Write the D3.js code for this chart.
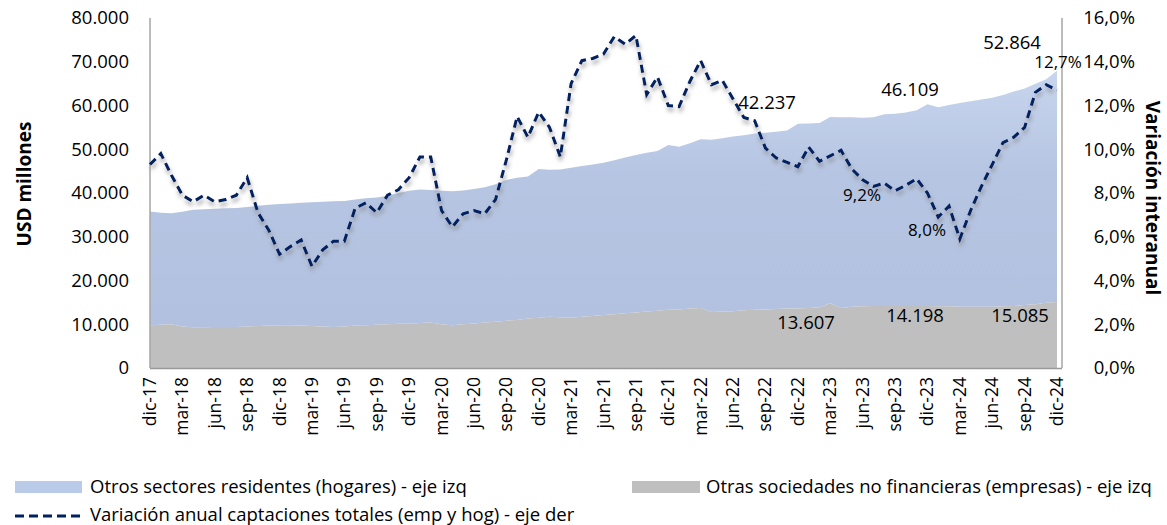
<!DOCTYPE html>
<html>
<head>
<meta charset="utf-8">
<script src="https://cdn.jsdelivr.net/npm/d3@7"></script>
<style>
  body { margin: 0; background: #fff; }
  text { font-family: "Open Sans", Lato, sans-serif; fill: #000; }
</style>
</head>
<body>
<svg id="chart" width="1167" height="525" viewBox="0 0 1167 525"></svg>
<script>
// meses dic-17 ... dic-24
const meses = ["ene","feb","mar","abr","may","jun","jul","ago","sep","oct","nov","dic"]
const categorias = []
for (let a = 17; a <= 24; a++) {
    meses.forEach((m, k) => {
        if (a === 17 && k < 11) return
        categorias.push(m + "-" + a)
    })
}

// Otras sociedades no financieras (empresas), USD millones
const empresas = [
    9800, 9900, 10000, 9500, 9300, 9300, 9400, 9400, 9400, 9500, 9600, 9700,
    9800, 9800, 9700, 9600, 9500, 9400, 9500, 9700, 9800, 9900, 10000, 10100,
    10100, 10300, 10400, 10000, 9800, 10000, 10200, 10400, 10600, 10800, 11000, 11300,
    11500, 11700, 11600, 11500, 11700, 11900, 12100, 12300, 12500, 12700, 12900, 13100,
    13300, 13400, 13600, 13700, 12800, 12900, 13000, 13200, 13300, 13400, 13500, 13600,
    13607, 13700, 13900, 14800, 13700, 14000, 14100, 14200, 14200, 14200, 14200, 14200,
    14198, 14100, 14100, 14000, 14000, 14000, 14000, 14100, 14200, 14400, 14600, 14900,
    15085
]

// Otros sectores residentes (hogares), USD millones
const hogares = [
    26000, 25600, 25400, 26200, 26900, 27000, 27000, 27100, 27200, 27300, 27500, 27600,
    27700, 27800, 28100, 28300, 28500, 28700, 28700, 28800, 29000, 29100, 29400, 29900,
    30400, 30500, 30300, 30500, 30600, 30600, 30700, 30900, 31400, 32200, 32500, 32500,
    34000, 33600, 33800, 34300, 34500, 34600, 34800, 35200, 35600, 36000, 36300, 36500,
    37700, 37200, 37800, 38600, 39400, 39600, 39900, 40000, 40300, 40400, 40500, 40700,
    42237, 42200, 42100, 42600, 43600, 43300, 43100, 43100, 43800, 43900, 44200, 44700,
    46109, 45500, 46000, 46600, 47000, 47400, 47800, 48300, 49000, 49500, 50400, 51100,
    52864
]

// Variación anual captaciones totales (%)
const variacion = [
    9.3, 9.8, 8.8, 7.9, 7.6, 7.9, 7.6, 7.7, 7.9, 8.7, 7.1, 6.3,
    5.2, 5.55, 5.85, 4.65, 5.4, 5.8, 5.8, 7.3, 7.55, 7.1, 7.9, 8.15,
    8.7, 9.65, 9.65, 7.2, 6.45, 7.05, 7.2, 7.05, 7.7, 9.5, 11.5, 10.55,
    11.7, 11.0, 9.65, 13.0, 14.05, 14.15, 14.35, 15.15, 14.8, 15.2, 12.5, 13.3,
    12.0, 11.95, 13.1, 14.05, 12.95, 13.15, 12.3, 11.45, 11.3, 10.05, 9.6, 9.4,
    9.2, 10.1, 9.45, 9.7, 9.95, 9.1, 8.6, 8.3, 8.45, 8.1, 8.35, 8.65,
    8.0, 6.9, 7.4, 5.9, 7.2, 8.3, 9.3, 10.3, 10.55, 11.0, 12.6, 12.95,
    12.7
]

const ticksIzq = [0, 10000, 20000, 30000, 40000, 50000, 60000, 70000, 80000]
const ticksDer = [0, 2, 4, 6, 8, 10, 12, 14, 16]

const svg = d3.select("#chart")
const x0 = 150, x1 = 1057, y0 = 18, y1 = 368

const x = d3.scalePoint().domain(categorias).range([x0, x1])
const yL = d3.scaleLinear().domain([0, 80000]).range([y1, y0])
const yR = d3.scaleLinear().domain([0, 16]).range([y1, y0])

const fmtMiles = d3.formatLocale({decimal: ",", thousands: ".", grouping: [3], currency: ["", ""]}).format(",.0f")
const fmtPct = v => d3.format(".1f")(v).replace(".", ",") + "%"

const defs = svg.append("defs")
const grad = defs.append("linearGradient").attr("id", "azul").attr("x1", 0).attr("y1", 0).attr("x2", 0).attr("y2", 1)
grad.append("stop").attr("offset", "0%").attr("stop-color", "#C7D5EE")
grad.append("stop").attr("offset", "40%").attr("stop-color", "#B6C5E2")
grad.append("stop").attr("offset", "100%").attr("stop-color", "#B2C1DF")

const sombra = defs.append("filter").attr("id", "sombra").attr("x", "-10%").attr("y", "-10%").attr("width", "120%").attr("height", "130%")
sombra.append("feDropShadow").attr("dx", 1).attr("dy", 4).attr("stdDeviation", 2.2)
    .attr("flood-color", "#7f7f7f").attr("flood-opacity", 0.7)

const data = categorias.map((c, i) => ({c: c, emp: empresas[i], hog: hogares[i], v: variacion[i]}))

// areas apiladas
const areaTotal = d3.area().x(d => x(d.c)).y0(d => yL(d.emp)).y1(d => yL(d.emp + d.hog))
const areaEmp = d3.area().x(d => x(d.c)).y0(yL(0)).y1(d => yL(d.emp))

svg.append("path").datum(data).attr("d", areaTotal).attr("fill", "url(#azul)")
svg.append("path").datum(data).attr("d", areaEmp).attr("fill", "#BFBFBF")

// ejes
svg.append("line").attr("x1", x0).attr("x2", x0).attr("y1", y0).attr("y2", y1)
    .attr("stroke", "#A6A6A6").attr("stroke-width", 1.5)
svg.append("line").attr("x1", 1062).attr("x2", 1062).attr("y1", y0).attr("y2", y1)
    .attr("stroke", "#A6A6A6").attr("stroke-width", 1.5)
svg.append("line").attr("x1", x0).attr("x2", 1062).attr("y1", y1 + 0.5).attr("y2", y1 + 0.5)
    .attr("stroke", "#999").attr("stroke-width", 1.5)

svg.append("g").selectAll("text").data(ticksIzq).enter().append("text")
    .attr("x", 129).attr("y", d => yL(d)).attr("dy", "0.35em")
    .attr("text-anchor", "end").style("font-size", "18.5px")
    .text(d => fmtMiles(d))

svg.append("g").selectAll("text").data(ticksDer).enter().append("text")
    .attr("x", 1135).attr("y", d => yR(d)).attr("dy", "0.35em")
    .attr("text-anchor", "end").style("font-size", "18.5px")
    .text(d => fmtPct(d))

const etiquetas = categorias.filter((c, i) => i % 3 === 0)
svg.append("g").selectAll("text").data(etiquetas).enter().append("text")
    .attr("transform", d => `translate(${x(d) + 6},377) rotate(-90)`)
    .attr("text-anchor", "end").style("font-size", "17.5px")
    .text(d => d)

svg.append("text").attr("transform", "translate(31,184) rotate(-90)")
    .attr("text-anchor", "middle").style("font-size", "19px").style("font-weight", "bold")
    .text("USD millones")
svg.append("text").attr("transform", "translate(1146,198) rotate(90)")
    .attr("text-anchor", "middle").style("font-size", "19px").style("font-weight", "bold")
    .text("Variación interanual")

// linea variacion
const linea = d3.line().x(d => x(d.c)).y(d => yR(d.v))
svg.append("path").datum(data).attr("d", linea)
    .attr("fill", "none").attr("stroke", "#002060").attr("stroke-width", 3)
    .attr("stroke-dasharray", "8,5").attr("filter", "url(#sombra)")

// etiquetas de datos
const idxLab = [60, 72, 84]
const posHog = [[767, 103], [910, 90], [1012, 43]]
const posEmp = [[806, 323], [915, 316], [1020, 316]]
const posVar = [[862, 195], [927, 230], [1058, 62]]
idxLab.forEach((i, k) => {
    svg.append("text").attr("x", posHog[k][0]).attr("y", posHog[k][1]).attr("dy", "0.35em")
        .attr("text-anchor", "middle").style("font-size", "18.5px").text(fmtMiles(hogares[i]))
    svg.append("text").attr("x", posEmp[k][0]).attr("y", posEmp[k][1]).attr("dy", "0.35em")
        .attr("text-anchor", "middle").style("font-size", "18.5px").text(fmtMiles(empresas[i]))
    svg.append("text").attr("x", posVar[k][0]).attr("y", posVar[k][1]).attr("dy", "0.35em")
        .attr("text-anchor", "middle").style("font-size", "17px").text(fmtPct(variacion[i]))
})

// leyenda
const leyenda = svg.append("g")
leyenda.append("rect").attr("x", 15).attr("y", 481).attr("width", 67).attr("height", 12).attr("fill", "#B9CBE8")
leyenda.append("text").attr("x", 90).attr("y", 487).attr("dy", "0.35em").style("font-size", "18.5px")
    .text("Otros sectores residentes (hogares) - eje izq")
leyenda.append("rect").attr("x", 632).attr("y", 481).attr("width", 68).attr("height", 12).attr("fill", "#BFBFBF")
leyenda.append("text").attr("x", 706).attr("y", 487).attr("dy", "0.35em").style("font-size", "18.5px")
    .text("Otras sociedades no financieras (empresas) - eje izq")
leyenda.append("line").attr("x1", 15).attr("x2", 82).attr("y1", 516).attr("y2", 516)
    .attr("stroke", "#002060").attr("stroke-width", 3).attr("stroke-dasharray", "9,5")
leyenda.append("text").attr("x", 90).attr("y", 515).attr("dy", "0.35em").style("font-size", "18.5px")
    .text("Variación anual captaciones totales (emp y hog) - eje der")
</script>
</body>
</html>
